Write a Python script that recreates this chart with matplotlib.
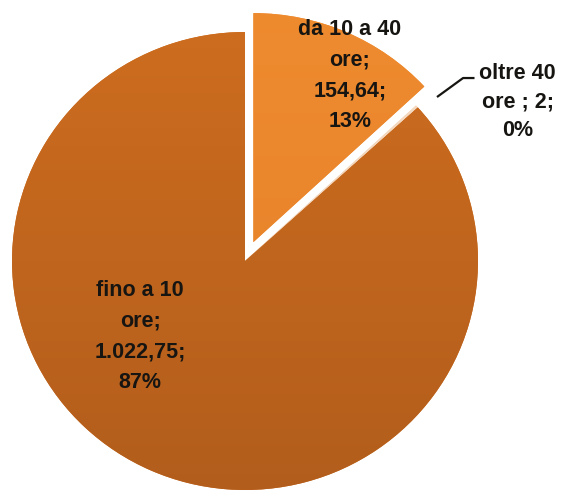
import numpy as np
import matplotlib.pyplot as plt
from matplotlib.colors import LinearSegmentedColormap

# --- DATA ---
categories = ['fino a 10 ore', 'da 10 a 40 ore', 'oltre 40 ore ']
hours = [1022.75, 154.64, 2]
value_text = ['1.022,75', '154,64', '2']
pct_text = ['87%', '13%', '0%']

# --- STYLE ---
top_colors = ['#CF6E1F', '#EF8B2F', '#F6DCC4']
bottom_colors = ['#B05C1C', '#E37E28', '#EFCDB0']
explode = [0, 0.09, 0]

plt.rcParams['font.family'] = ['Liberation Sans', 'DejaVu Sans']

W, H = 561, 493
fig = plt.figure(figsize=(W / 100, H / 100), dpi=100)

# pie centre and radii in pixels (slightly wider than tall)
cx, cy, rx, ry = 245, 261, 233, 229
lim = 1.25
ax = fig.add_axes([(cx - lim * rx) / W, (H - cy - lim * ry) / H,
                   2 * lim * rx / W, 2 * lim * ry / H])

total_share = sum(hours[1:]) / sum(hours)
wedges, _ = ax.pie(hours, explode=explode, startangle=90 - 360 * total_share,
                   counterclock=False, colors=top_colors,
                   wedgeprops=dict(linewidth=0))
ax.set_xlim(-lim, lim)
ax.set_ylim(-lim, lim)
ax.set_aspect('auto')

# vertical shading inside each slice
grad = np.linspace(1, 0, 256).reshape(-1, 1)
for w, c_top, c_bot in zip(wedges, top_colors, bottom_colors):
    cmap = LinearSegmentedColormap.from_list('shade', [c_bot, c_top])
    im = ax.imshow(grad, cmap=cmap, extent=(-1.2, 1.2, -1.2, 1.2),
                   origin='upper', aspect='auto', zorder=w.get_zorder() + 0.1)
    im.set_clip_path(w)

txt = dict(ha='center', va='center', fontsize=15.5, fontweight='bold',
           color='#171512', linespacing=1.6, zorder=5)
ax.text(-0.45, -0.33, 'fino a 10\nore;\n%s;\n%s' % (value_text[0], pct_text[0]), **txt)
ax.text(0.45, 0.81, 'da 10 a 40\nore;\n%s;\n%s' % (value_text[1], pct_text[1]), **txt)
ax.text(1.17, 0.695, 'oltre 40\nore ; %s;\n%s' % (value_text[2], pct_text[2]),
        **dict(txt, linespacing=1.45))

# leader line for the tiny slice
ax.plot([0.824, 0.936, 0.985], [0.716, 0.799, 0.799], color='#171512',
        lw=1.6, solid_capstyle='butt', zorder=5, clip_on=False)

fig.savefig('out.png', dpi=100)
